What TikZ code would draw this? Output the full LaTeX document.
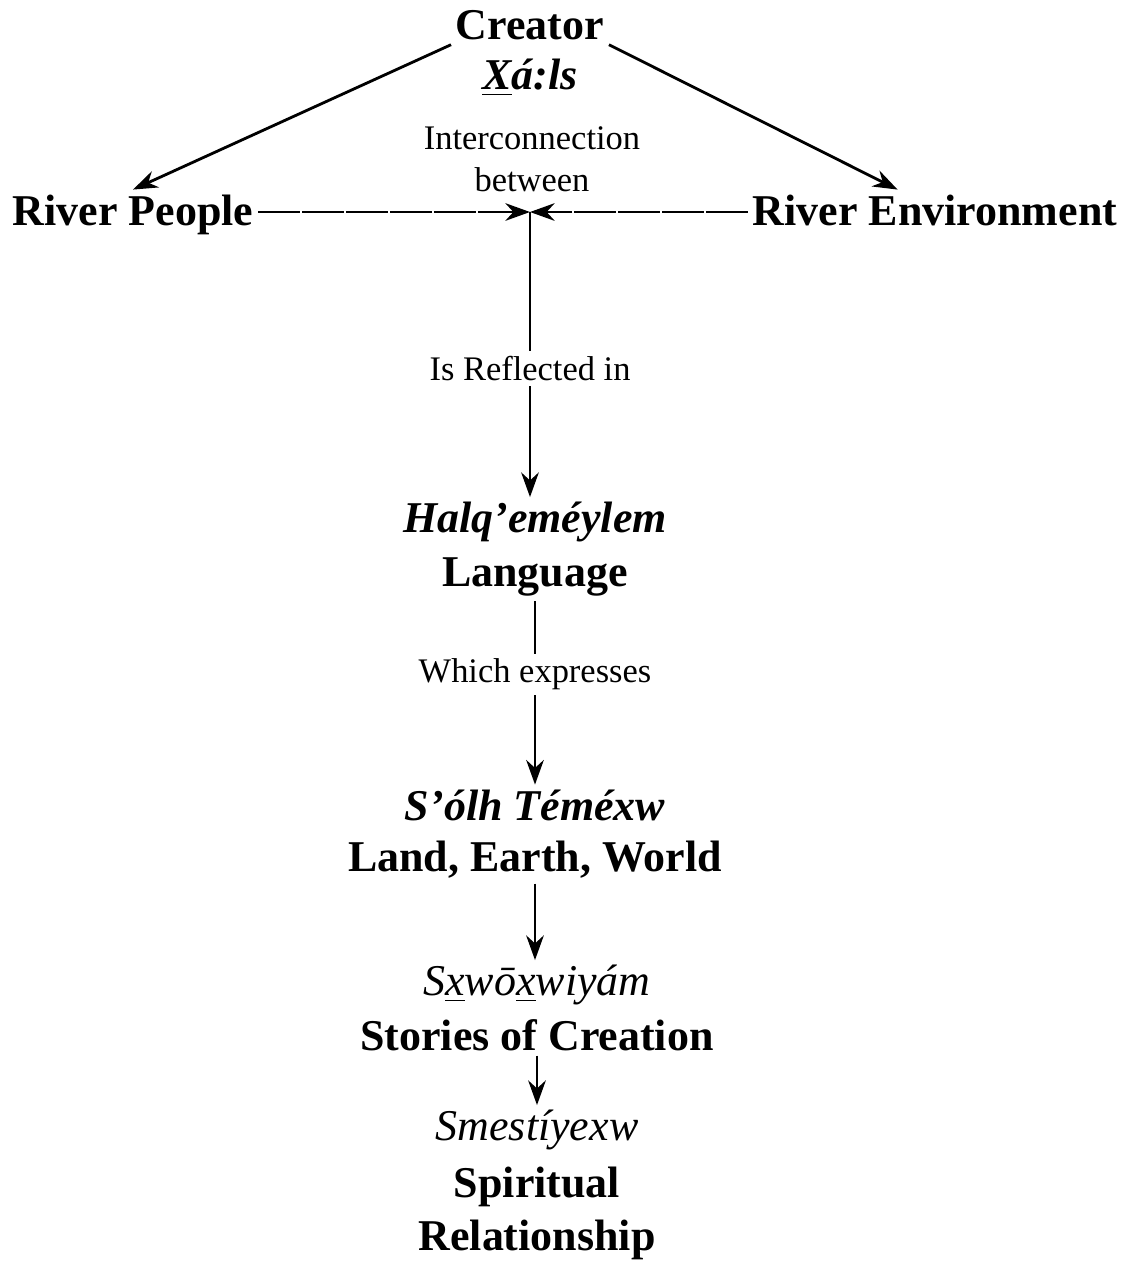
\documentclass[tikz,border=0pt]{standalone}
\usepackage{fontspec}
\setmainfont{Liberation Serif}
\usetikzlibrary{arrows.meta,calc}

\begin{document}
\begin{tikzpicture}
[x=0.01cm,y=-0.01cm,>={Stealth[length=7pt,width=5pt]},line width=0.8pt,
  main node/.style={inner sep=1pt,font=\fontsize{12.5}{15}\selectfont\bfseries},
  word node/.style={inner sep=1pt,font=\fontsize{12.5}{15}\selectfont\bfseries\itshape},
  soft word node/.style={inner sep=1pt,font=\fontsize{12.5}{15}\selectfont\itshape},
  link label/.style={fill=white,inner sep=1.5pt,font=\fontsize{9.8}{12}\selectfont}]
  \useasboundingbox (0,0) rectangle (1131,1263);

  \node[main node] (creator) at (530,25) {Creator};
  \node[word node] (xals) at (530,78) {\underline{X}á:ls};

  \node[link label] (inter) at (532,138) {Interconnection};
  \node[link label] (betw) at (532,180) {between};

  \node[main node,anchor=base] (people) at (133,225) {River People};
  \node[main node,anchor=base] (env) at (935,225) {River Environment};
  \coordinate (hub) at (530,212);

  \node[word node] (halq) at (535,522) {Halq’eméylem};
  \node[main node] (lang) at (535,577) {Language};

  \node[word node] (solh) at (535,805) {S’ólh Téméxw};
  \node[main node] (land) at (535,860) {Land, Earth, World};

  \node[soft word node] (sxw) at (537,985) {S\underline{x}wō\underline{x}wiyám};
  \node[main node] (stories) at (537,1035) {Stories of Creation};

  \node[soft word node] (smest) at (537,1130) {Smestíyexw};
  \node[main node] (spirit) at (537,1187) {Spiritual};
  \node[main node] (relation) at (537,1240) {Relationship};

  \draw[->] (creator.south west) -- (people.north);
  \draw[->] (creator.south east) -- ($(env.north west)!0.4!(env.north east)$);

  \foreach \from/\side in {people/east,env/west}
    \draw[->,dash pattern=on 12pt off 0.5pt] (\from.\side |- hub) -- (hub);

  \draw[->] (hub) -- node[link label,pos=0.55] {Is Reflected in} (hub |- halq.north);
  \draw[->] (lang.south) -- node[link label,pos=0.4] {Which expresses} (solh.north);

  \foreach \from/\to in {land/sxw,stories/smest}
    \draw[->] (\from.south) -- (\from.south |- \to.north);

\end{tikzpicture}
\end{document}
